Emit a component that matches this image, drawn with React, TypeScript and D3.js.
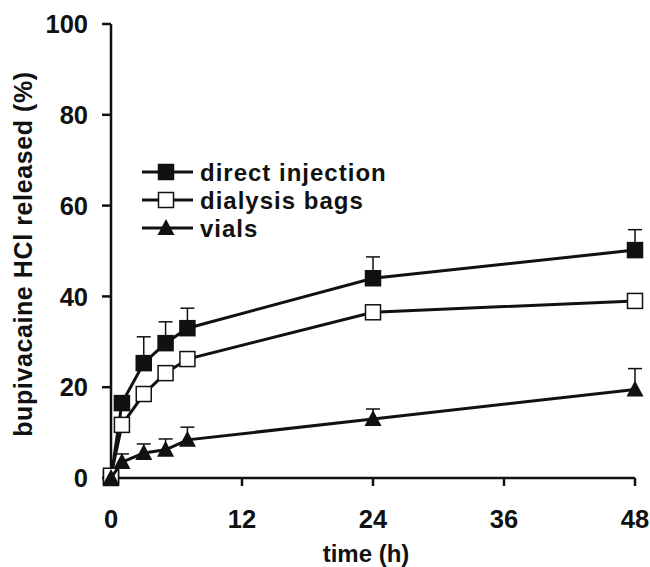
import * as React from 'react';
import * as d3 from 'd3';

// time points (h)
const times = [0, 1, 3, 5, 7, 24, 48];

// % released, mean and upper error (mean + sd)
const directInjection = [0, 16.5, 25.3, 29.7, 33.0, 44.0, 50.2];
const directInjectionErr = [0, 0, 5.8, 4.7, 4.4, 4.7, 4.5];
const dialysisBags = [0.5, 11.7, 18.5, 23.1, 26.2, 36.5, 39.0];
const dialysisBagsErr = [0, 0, 0, 0, 0, 0, 0];
const vials = [0, 3.5, 5.5, 6.2, 8.4, 13.0, 19.5];
const vialsErr = [0, 1.8, 2.0, 2.4, 2.8, 2.2, 4.6];

const xTicks = [0, 12, 24, 36, 48];
const yTicks = [0, 20, 40, 60, 80, 100];

const seriesNames = ['direct injection', 'dialysis bags', 'vials'];

type Series = { name: string, values: number[], err: number[], marker: 'fsq' | 'osq' | 'tri' }

const series: Series[] = [
    { name: seriesNames[0], values: directInjection, err: directInjectionErr, marker: 'fsq' },
    { name: seriesNames[1], values: dialysisBags, err: dialysisBagsErr, marker: 'osq' },
    { name: seriesNames[2], values: vials, err: vialsErr, marker: 'tri' },
];

const font = '"Liberation Sans", Arial, sans-serif';

const Marker = ({ type, cx, cy }: { type: string, cx: number, cy: number }) => {
    const s = 7.5;
    if (type === 'tri') {
        const p = `M${cx},${cy - 9} L${cx + 8.5},${cy + 7} L${cx - 8.5},${cy + 7} Z`;
        return <path d={p} fill="#111" />;
    }
    return <rect x={cx - s} y={cy - s} width={2 * s} height={2 * s}
        fill={type === 'fsq' ? '#111' : '#fff'} stroke="#111" strokeWidth={1.5} />;
}

export default function App() {
    const width = 650, height = 567;
    const x = d3.scaleLinear().domain([0, 48]).range([111, 635]);
    const y = d3.scaleLinear().domain([0, 100]).range([478, 24]);

    const line = d3.line<number>()
        .x((_, i) => x(times[i]))
        .y(d => y(d));

    return (
        <svg width={width} height={height} style={{ position: 'absolute', left: 0, top: 0 }}
            fontFamily={font} fontWeight="bold">
            {/* axes */}
            <line x1={x(0)} x2={x(0)} y1={y(100)} y2={y(0)} stroke="#111" strokeWidth={2.5} />
            <line x1={x(0)} x2={x(48)} y1={y(0)} y2={y(0)} stroke="#111" strokeWidth={2.5} />
            {yTicks.map(t => (
                <g key={'y' + t}>
                    <line x1={x(0) - 9} x2={x(0)} y1={y(t)} y2={y(t)} stroke="#111" strokeWidth={2.5} />
                    <text x={88} y={y(t)} dy="0.36em" textAnchor="end" fontSize={25.5} fill="#111">{t}</text>
                </g>
            ))}
            {xTicks.map(t => (
                <g key={'x' + t}>
                    <line x1={x(t)} x2={x(t)} y1={y(0)} y2={y(0) + 8} stroke="#111" strokeWidth={2.5} />
                    <text x={x(t)} y={519} dy="0.36em" textAnchor="middle" fontSize={25.5} fill="#111">{t}</text>
                </g>
            ))}
            <text x={366} y={562} textAnchor="middle" fontSize={24} fill="#111">time (h)</text>
            <text transform={`translate(23,${254}) rotate(-90)`} dy="0.36em" textAnchor="middle"
                fontSize={25} letterSpacing={0.6} fill="#111">bupivacaine HCl released (%)</text>

            {/* series */}
            {series.map(s => (
                <g key={s.name}>
                    {s.values.map((v, i) => s.err[i] > 0 && (
                        <g key={i}>
                            <line x1={x(times[i])} x2={x(times[i])} y1={y(v)} y2={y(v + s.err[i])} stroke="#111" strokeWidth={1.5} />
                            <line x1={x(times[i]) - 7} x2={x(times[i]) + 7} y1={y(v + s.err[i])} y2={y(v + s.err[i])} stroke="#111" strokeWidth={1.5} />
                        </g>
                    ))}
                    <path d={line(s.values) || ''} fill="none" stroke="#111" strokeWidth={3} />
                    {s.values.map((v, i) => (
                        <Marker key={i} type={s.marker} cx={x(times[i])} cy={y(v)} />
                    ))}
                </g>
            ))}

            {/* legend */}
            {series.map((s, i) => {
                const ly = 172 + i * 28;
                return (
                    <g key={'lg' + s.name}>
                        <line x1={142} x2={193} y1={ly} y2={ly} stroke="#111" strokeWidth={3} />
                        <Marker type={s.marker} cx={166} cy={ly} />
                        <text x={200} y={ly} dy="0.36em" fontSize={24} letterSpacing={1} fill="#111">{s.name}</text>
                    </g>
                );
            })}
        </svg>
    );
}
